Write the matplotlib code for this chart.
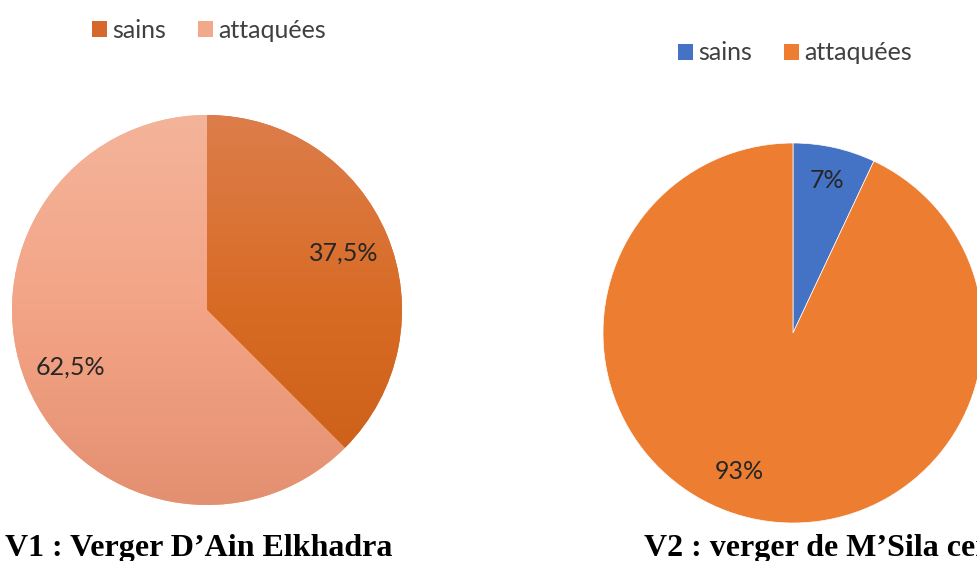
import matplotlib
matplotlib.use('Agg')
import matplotlib.pyplot as plt
import numpy as np
from matplotlib.colors import LinearSegmentedColormap
from matplotlib.patches import Patch

categories = ['sains', 'attaquées']
v1_values = [37.5, 62.5]
v2_values = [7, 93]
titles = ["V1 : Verger D\u2019Ain Elkhadra", "V2 : verger de M\u2019Sila centre"]

# gradient stops (top, middle, bottom) for V1 slices
v1_grad = [['#DD7D4B', '#D86B24', '#CB5E17'],
           ['#F3B49A', '#F4A486', '#E39071']]
v1_legend = ['#D5682A', '#F2A98A']
v2_colors = ['#4472C4', '#ED7D31']

TXT = '#262626'
LEG = '#404040'
FONT = 'Lato'
FS = 18

W, H = 977, 561
fig = plt.figure(figsize=(W / 100, H / 100), dpi=100)
fig.patch.set_facecolor('white')


def fmt(p):
    s = f"{p:.1f}".replace('.', ',')
    if s.endswith(',0'):
        s = s[:-2]
    return s + '%'


def make_ax(cx, cy, r):
    ax = fig.add_axes([(cx - r) / W, (H - cy - r) / H, 2 * r / W, 2 * r / H])
    ax.set_xlim(-1, 1)
    ax.set_ylim(-1, 1)
    ax.axis('off')
    return ax


# ---- V1 ----
ax1 = make_ax(207, 310, 195)
w1, _, at1 = ax1.pie(v1_values, startangle=90, counterclock=False, radius=1,
                     colors=v1_legend, wedgeprops=dict(linewidth=0),
                     autopct=fmt, pctdistance=0.76,
                     textprops=dict(fontsize=FS, color=TXT, family=FONT))
ax1.set_xlim(-1, 1)
ax1.set_ylim(-1, 1)
grad = np.linspace(0, 1, 256).reshape(-1, 1)
for wedge, stops in zip(w1, v1_grad):
    cmap = LinearSegmentedColormap.from_list('g', stops)
    im = ax1.imshow(grad, extent=(-1, 1, -1, 1), origin='upper', cmap=cmap,
                    aspect='auto', zorder=2)
    im.set_clip_path(wedge)
for t in at1:
    t.set_zorder(5)

# ---- V2 ----
ax2 = make_ax(793, 333, 190)
w2, _, at2 = ax2.pie(v2_values, startangle=90, counterclock=False, radius=1,
                     colors=v2_colors, wedgeprops=dict(linewidth=0.5, edgecolor='white'),
                     autopct=fmt, pctdistance=0.82,
                     textprops=dict(fontsize=FS, color=TXT, family=FONT))
ax2.set_xlim(-1, 1)
ax2.set_ylim(-1, 1)
# the big-slice label sits a little left of the slice bisector in the original
wb = w2[1]
ang = np.deg2rad((wb.theta1 + wb.theta2) / 2 - 8.5)
at2[1].set_position((0.78 * np.cos(ang), 0.78 * np.sin(ang)))

# ---- legends ----
h1 = [Patch(facecolor=c, edgecolor='none') for c in v1_legend]
h2 = [Patch(facecolor=c, edgecolor='none') for c in v2_colors]
for handles, (x, y) in [(h1, (209, 30)), (h2, (795, 53))]:
    fig.legend(handles, categories, loc='center', bbox_to_anchor=(x / W, 1 - y / H),
               ncol=2, frameon=False, handlelength=0.62, handleheight=0.62,
               handletextpad=0.22, columnspacing=1.25,
               prop=dict(family=FONT, size=FS), labelcolor=LEG)

# ---- titles ----
fig.text(5 / W, 1 - 556 / H, titles[0], ha='left', va='baseline',
         family='Liberation Serif', weight='bold', fontsize=23, color='black')
fig.text(644 / W, 1 - 556 / H, titles[1], ha='left', va='baseline',
         family='Liberation Serif', weight='bold', fontsize=23, color='black')

fig.savefig('out.png', dpi=100, facecolor='white')
